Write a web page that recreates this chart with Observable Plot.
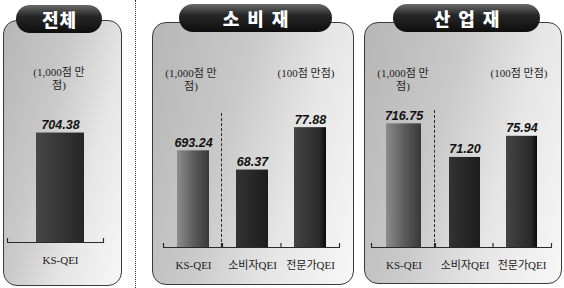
<!DOCTYPE html>
<html>
<head>
<meta charset="utf-8">
<script src="https://cdn.jsdelivr.net/npm/d3@7"></script>
<script src="https://cdn.jsdelivr.net/npm/@observablehq/plot@0.6"></script>
<style>
  html, body { margin: 0; padding: 0; }
  body { width: 564px; height: 288px; position: relative; overflow: hidden; background: #ffffff;
         font-family: "Liberation Serif", "Noto Sans CJK KR", serif; }
  .panel { position: absolute; box-sizing: border-box; border: 1px solid #3a3a3a; border-radius: 14px;
           background: linear-gradient(105deg, #b6b6b6 0%, #c9c9c9 38%, #e6e6e6 68%, #f7f7f7 100%); }
  .pill { position: absolute; box-sizing: border-box; height: 28px; border-radius: 14px;
          background: linear-gradient(#6a6a6a 0%, #262626 40%, #0e0e0e 100%);
          color: #fff; font-family: "Noto Sans CJK KR", sans-serif; font-weight: 900; font-size: 18px;
          line-height: 28px; text-align: center; }
  .unit { position: absolute; font-size: 11px; color: #1e1e1e; text-align: center; line-height: 13px; white-space: nowrap; }
  .vsep { position: absolute; width: 0; }
  .chart { position: absolute; }
</style>
</head>
<body>
<svg width="0" height="0" style="position:absolute">
  <defs>
    <linearGradient id="gTotal" x1="0" x2="1" y1="0" y2="0">
      <stop offset="0" stop-color="#474747"/><stop offset="1" stop-color="#262626"/>
    </linearGradient>
    <linearGradient id="gKs" x1="0" x2="1" y1="0" y2="0">
      <stop offset="0" stop-color="#8c8c8c"/><stop offset="0.5" stop-color="#5e5e5e"/><stop offset="1" stop-color="#383838"/>
    </linearGradient>
    <linearGradient id="gCons" x1="0" x2="1" y1="0" y2="0">
      <stop offset="0" stop-color="#333333"/><stop offset="1" stop-color="#1c1c1c"/>
    </linearGradient>
    <linearGradient id="gExp" x1="0" x2="1" y1="0" y2="0">
      <stop offset="0" stop-color="#444444"/><stop offset="0.8" stop-color="#2a2a2a"/><stop offset="1" stop-color="#0a0a0a"/>
    </linearGradient>
  </defs>
</svg>
<script>
// ---- data ----
const panelTitles = ["전체", "소비재", "산업재"];
const unitThousand = ["(1,000점 만", "점)"];
const unitHundred = "(100점 만점)";
const totalCategories = ["KS-QEI"];
const totalValues = [704.38];
const consumerCategories = ["KS-QEI", "소비자QEI", "전문가QEI"];
const consumerValues = [693.24, 68.37, 77.88];
const industrialCategories = ["KS-QEI", "소비자QEI", "전문가QEI"];
const industrialValues = [716.75, 71.20, 75.94];

// ---- scale domains (not to zero, as in the original) ----
const thousandDomain = [609, 731];
const hundredDomain = [51, 82.4];

const body = document.body;

function addDiv(cls, css, html) {
  const d = document.createElement("div");
  d.className = cls;
  d.style.cssText = css;
  if (html != null) d.innerHTML = html;
  body.appendChild(d);
  return d;
}

// panels
addDiv("panel", "left:3px;top:20px;width:119px;height:266px");
addDiv("panel", "left:152px;top:22px;width:202px;height:263px");
addDiv("panel", "left:364px;top:22px;width:198px;height:262px");

// dotted separator between 전체 and the others
addDiv("vsep", "left:135px;top:0px;height:288px;border-left:1px dotted #333");
// dashed separators between the 1,000 and 100 point bars
addDiv("vsep", "left:221px;top:113px;height:134px;border-left:1px dashed #2a2a2a");
addDiv("vsep", "left:434px;top:110px;height:137px;border-left:1px dashed #2a2a2a");

function boundaryTicks(index, scales, values, dimensions) {
  const {width, height, marginLeft, marginRight, marginBottom} = dimensions;
  const y0 = height - marginBottom;
  const x = scales.x;
  const bw = x && x.bandwidth ? x.bandwidth() : 0;
  const dom = x && x.domain ? x.domain() : [];
  const xs = [marginLeft + 0.5, width - marginRight - 0.5];
  for (let i = 1; i < dom.length; i++) xs.push((x(dom[i - 1]) + bw + x(dom[i])) / 2);
  const g = d3.create("svg:g").attr("stroke", "#2a2a2a").attr("stroke-width", 1.2);
  for (const xi of xs) g.append("line").attr("x1", xi).attr("x2", xi).attr("y1", y0).attr("y2", y0 - 4);
  return g.node();
}

function barChart({cats, vals, fills, domain, left, baseline, width, padIn, padOut, align = 0.5}) {
  const rows = cats.map((c, i) => ({c, v: vals[i]}));
  const mt = 20, ih = 140, mb = 32;
  const svg = Plot.plot({
    width, height: mt + ih + mb,
    marginTop: mt, marginBottom: mb, marginLeft: 0, marginRight: 0,
    style: {background: "transparent", fontFamily: "'Liberation Serif','Noto Sans CJK KR',serif",
            fontSize: "11px", color: "#1a1a1a", overflow: "visible"},
    x: {type: "band", domain: cats, paddingInner: padIn, paddingOuter: padOut, align,
        label: null, tickSize: 0, tickPadding: 14},
    y: {domain, axis: null},
    color: {type: "identity"},
    marks: [
      Plot.barY(rows, {x: "c", y1: domain[0], y2: "v", fill: (d, i) => fills[i]}),
      Plot.ruleY([domain[0]], {stroke: "#2a2a2a", strokeWidth: 1.2}),
      boundaryTicks,
      Plot.text(rows, {x: "c", y: "v", text: d => d.v.toFixed(2), dy: -8,
        fontStyle: "italic", fontWeight: "bold", fontSize: 12.5,
        fontFamily: "'Liberation Sans', sans-serif", fill: "#111"})
    ]
  });
  svg.classList.add("chart");
  svg.style.position = "absolute";
  svg.style.left = left + "px";
  svg.style.top = (baseline - ih - mt) + "px";
  body.appendChild(svg);
}

// 전체
barChart({cats: totalCategories, vals: totalValues, fills: ["url(#gTotal)"], domain: thousandDomain,
  left: 7, baseline: 242, width: 97, padIn: 0.338, padOut: 0.338, align: 0.59});
// 소비재
barChart({cats: consumerCategories.slice(0, 1), vals: consumerValues.slice(0, 1), fills: ["url(#gKs)"],
  domain: thousandDomain, left: 163, baseline: 247, width: 59, padIn: 0.29, padOut: 0.29});
barChart({cats: consumerCategories.slice(1), vals: consumerValues.slice(1), fills: ["url(#gCons)", "url(#gExp)"],
  domain: hundredDomain, left: 222, baseline: 247, width: 118, padIn: 0.45, padOut: 0.24});
// 산업재
barChart({cats: industrialCategories.slice(0, 1), vals: industrialValues.slice(0, 1), fills: ["url(#gKs)"],
  domain: thousandDomain, left: 371, baseline: 247, width: 64, padIn: 0.29, padOut: 0.29});
barChart({cats: industrialCategories.slice(1), vals: industrialValues.slice(1), fills: ["url(#gCons)", "url(#gExp)"],
  domain: hundredDomain, left: 435, baseline: 247, width: 117, padIn: 0.45, padOut: 0.24});

// title pills
const pills = [
  {left: 16, top: 5, width: 86, spacing: 1},
  {left: 179, top: 4, width: 153, spacing: 8},
  {left: 393, top: 4, width: 147, spacing: 8}
];
panelTitles.forEach((t, i) => {
  const p = pills[i];
  addDiv("pill", `left:${p.left}px;top:${p.top}px;width:${p.width}px;letter-spacing:${p.spacing}px;padding-left:${p.spacing}px`, t);
});

// unit labels
const unitPos = [
  {cx: 59, top: 66, hundred: null},
  {cx: 191, top: 67, hundred: 306},
  {cx: 403, top: 67, hundred: 519}
];
unitPos.forEach(u => {
  addDiv("unit", `left:${u.cx - 40}px;top:${u.top}px;width:80px`, unitThousand[0] + "<br>" + unitThousand[1]);
  if (u.hundred != null) addDiv("unit", `left:${u.hundred - 40}px;top:${u.top}px;width:80px`, unitHundred);
});
</script>
</body>
</html>
